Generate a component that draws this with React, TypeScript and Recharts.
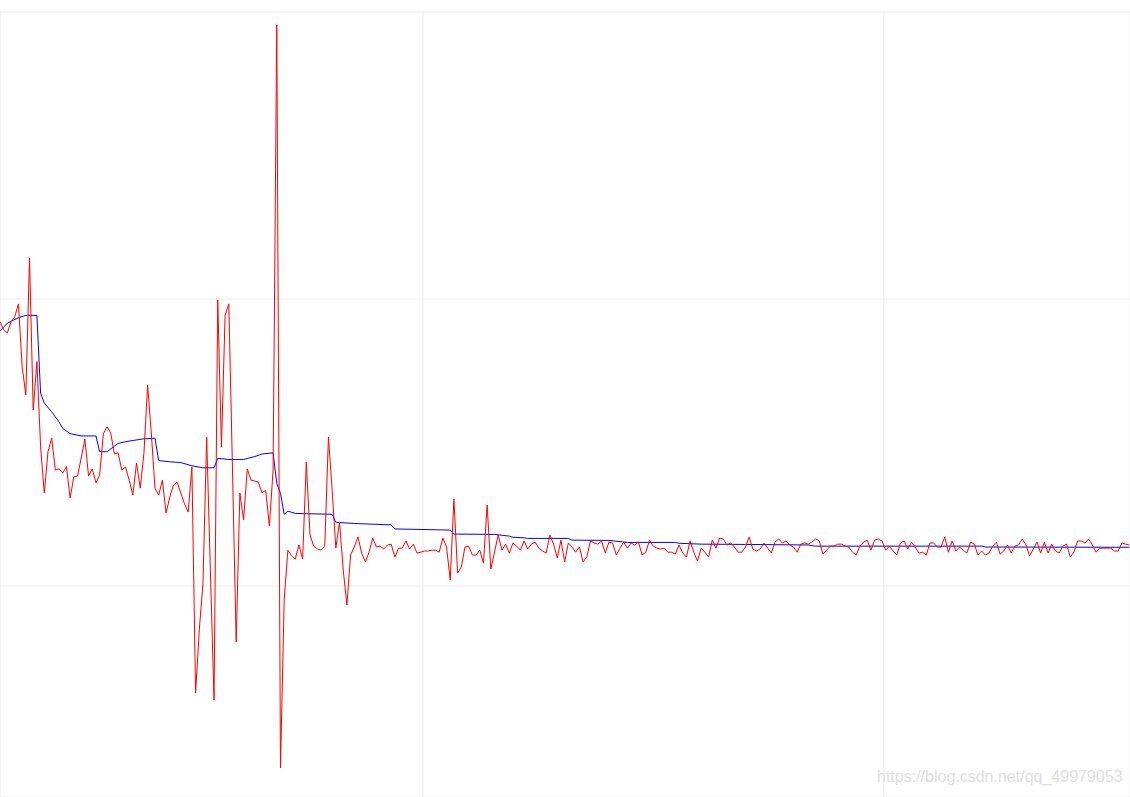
import React from 'react';
import { LineChart, Line, XAxis, YAxis, CartesianGrid } from 'recharts';

// Raw signal, one value per sample (grid lines sit at 0, 100, 200)
const redValues = [
  92.1, 89.2, 88.2, 92.1, 93.8, 98.3, 76.4, 66.6, 114.3, 61.3,
  78.2, 48.5, 32.4, 46.8, 51.6, 40.4, 40.8, 39.4, 41.6, 30.7,
  38.0, 38.3, 44.6, 51.2, 38.3, 40.8, 36.0, 38.7, 53.0, 55.5,
  53.3, 46.0, 46.4, 40.4, 41.5, 36.9, 31.7, 42.9, 34.1, 46.3,
  70.0, 53.3, 34.1, 31.7, 36.9, 25.4, 31.0, 35.2, 36.2, 32.4,
  28.6, 25.8, 41.5, -37.3, -15.3, 1.0, 51.9, 5.6, -39.7, 99.7,
  48.4, 94.4, 98.3, 40.4, -19.5, 32.4, 23.0, 40.8, 36.9, 36.6,
  36.2, 32.4, 33.4, 20.9, 40.4, 195.5, -63.4, -4.9, 12.5, 10.5,
  9.4, 14.3, 9.4, 43.2, 17.8, 13.9, 12.9, 12.5, 13.9, 51.9,
  33.4, 13.2, 22.3, 5.6, -6.6, 10.8, 13.6, 17.1, 11.5, 8.4,
  11.8, 16.7, 13.6, 13.9, 12.9, 14.3, 14.6, 10.1, 13.2, 13.2,
  15.7, 12.9, 14.6, 11.5, 11.8, 12.2, 12.2, 12.5, 12.5, 11.8,
  16.7, 13.6, 2.1, 30.3, 4.5, 6.6, 13.6, 13.9, 10.8, 10.8,
  12.5, 8.0, 28.2, 5.9, 11.8, 17.8, 12.5, 14.6, 11.5, 15.0,
  13.9, 12.5, 15.7, 12.9, 14.6, 15.3, 13.2, 12.2, 11.5, 17.8,
  14.6, 9.8, 16.0, 8.4, 15.0, 13.6, 11.8, 13.6, 8.4, 10.1,
  15.7, 15.0, 14.6, 15.7, 11.5, 15.3, 15.0, 10.8, 13.2, 15.3,
  13.2, 15.0, 14.3, 15.3, 10.8, 11.8, 16.0, 13.9, 13.2, 12.9,
  13.2, 11.8, 11.8, 11.1, 14.3, 11.5, 10.1, 15.7, 11.8, 8.7,
  13.2, 11.8, 10.1, 16.0, 13.2, 16.7, 16.4, 14.3, 15.0, 13.6,
  11.8, 11.8, 13.6, 17.1, 12.9, 12.2, 12.9, 15.0, 13.2, 11.5,
  15.3, 16.4, 15.0, 15.7, 14.3, 13.6, 11.8, 14.6, 15.0, 14.6,
  15.3, 16.4, 15.7, 11.1, 12.5, 13.9, 13.9, 14.6, 14.6, 13.9,
  13.6, 11.8, 10.8, 13.9, 15.3, 16.0, 12.5, 16.0, 16.4, 15.7,
  12.5, 13.9, 12.2, 10.8, 15.0, 15.7, 12.9, 15.3, 13.6, 11.5,
  11.8, 10.8, 15.0, 15.0, 13.6, 13.6, 17.1, 11.8, 15.7, 12.2,
  13.6, 12.5, 11.5, 15.3, 14.6, 10.8, 12.2, 10.8, 11.5, 13.9,
  15.3, 11.1, 12.2, 14.3, 11.5, 13.9, 14.3, 16.4, 14.3, 10.5,
  12.9, 15.3, 11.5, 15.3, 11.5, 14.6, 12.2, 11.5, 13.9, 14.6,
  10.1, 11.8, 15.7, 15.7, 15.0, 16.4, 14.3, 11.8, 13.2, 13.2,
  13.2, 13.2, 12.2, 12.2, 15.0, 14.6, 14.3,
];

// Smoothed estimate, read at the sample indices where it bends
const blueIndex = [
  0, 2, 5, 7, 10, 11, 12, 14, 16, 17, 19, 22, 26, 27, 29, 32, 34, 39, 42, 43,
  46, 49, 52, 55, 58, 59, 62, 66, 69, 71, 74, 75, 76, 77, 78, 80, 90, 91, 96, 106,
  107, 122, 123, 134, 138, 139, 142, 143, 154, 155, 165, 170, 183, 184, 190, 202, 219, 221, 266, 267,
  306,
];
const blueValues = [
  88.9, 91.6, 93.5, 94.3, 94.3, 67.2, 63.7, 60.7, 57.2, 54.9, 53.1, 52.3, 52.3, 46.8, 46.8, 49.7, 50.3, 51.3, 51.5, 43.7,
  43.3, 43.0, 41.9, 41.2, 41.2, 44.5, 44.1, 44.1, 45.1, 46.0, 46.4, 35.8, 32.3, 25.0, 26.1, 25.3, 25.0, 22.2, 21.8, 21.3,
  19.9, 19.5, 18.1, 18.0, 17.4, 17.0, 16.8, 16.6, 16.6, 16.0, 15.9, 15.2, 15.2, 14.9, 14.6, 14.5, 14.3, 13.9, 13.9, 13.6,
  13.5,
];

const xTicks = [114.6, 239.5];
const yTicks = [0, 100, 200];

const blueByIndex = new Map<number, number>();
blueIndex.forEach((idx, k) => blueByIndex.set(idx, blueValues[k]));

const data = redValues.map((v, i) => ({
  i,
  red: v,
  blue: blueByIndex.has(i) ? blueByIndex.get(i) : null,
}));

const App: React.FC = () => {
  return (
    <div style={{ position: 'absolute', left: 0, top: 0, width: 1130, height: 797, background: '#fff' }}>
      <LineChart
        width={1130}
        height={797}
        data={data}
        margin={{ top: 12, right: 0, bottom: 0, left: 0 }}
      >
        <CartesianGrid stroke="#ececec" />
        <XAxis
          dataKey="i"
          type="number"
          domain={[0, 306.2]}
          ticks={xTicks}
          hide
        />
        <YAxis domain={[-73.5, 200]} ticks={yTicks} hide allowDataOverflow />
        <Line
          dataKey="blue"
          stroke="#0000ff"
          strokeWidth={1}
          dot={false}
          connectNulls
          isAnimationActive={false}
        />
        <Line
          dataKey="red"
          stroke="#ff0000"
          strokeWidth={1}
          dot={false}
          isAnimationActive={false}
        />
      </LineChart>
      <div
        style={{
          position: 'absolute',
          left: 877,
          top: 768,
          fontFamily: '"Liberation Sans", Arial, sans-serif',
          fontSize: 16,
          color: '#dedede',
          whiteSpace: 'nowrap',
        }}
      >
        https://blog.csdn.net/qq_49979053
      </div>
    </div>
  );
};

export default App;
